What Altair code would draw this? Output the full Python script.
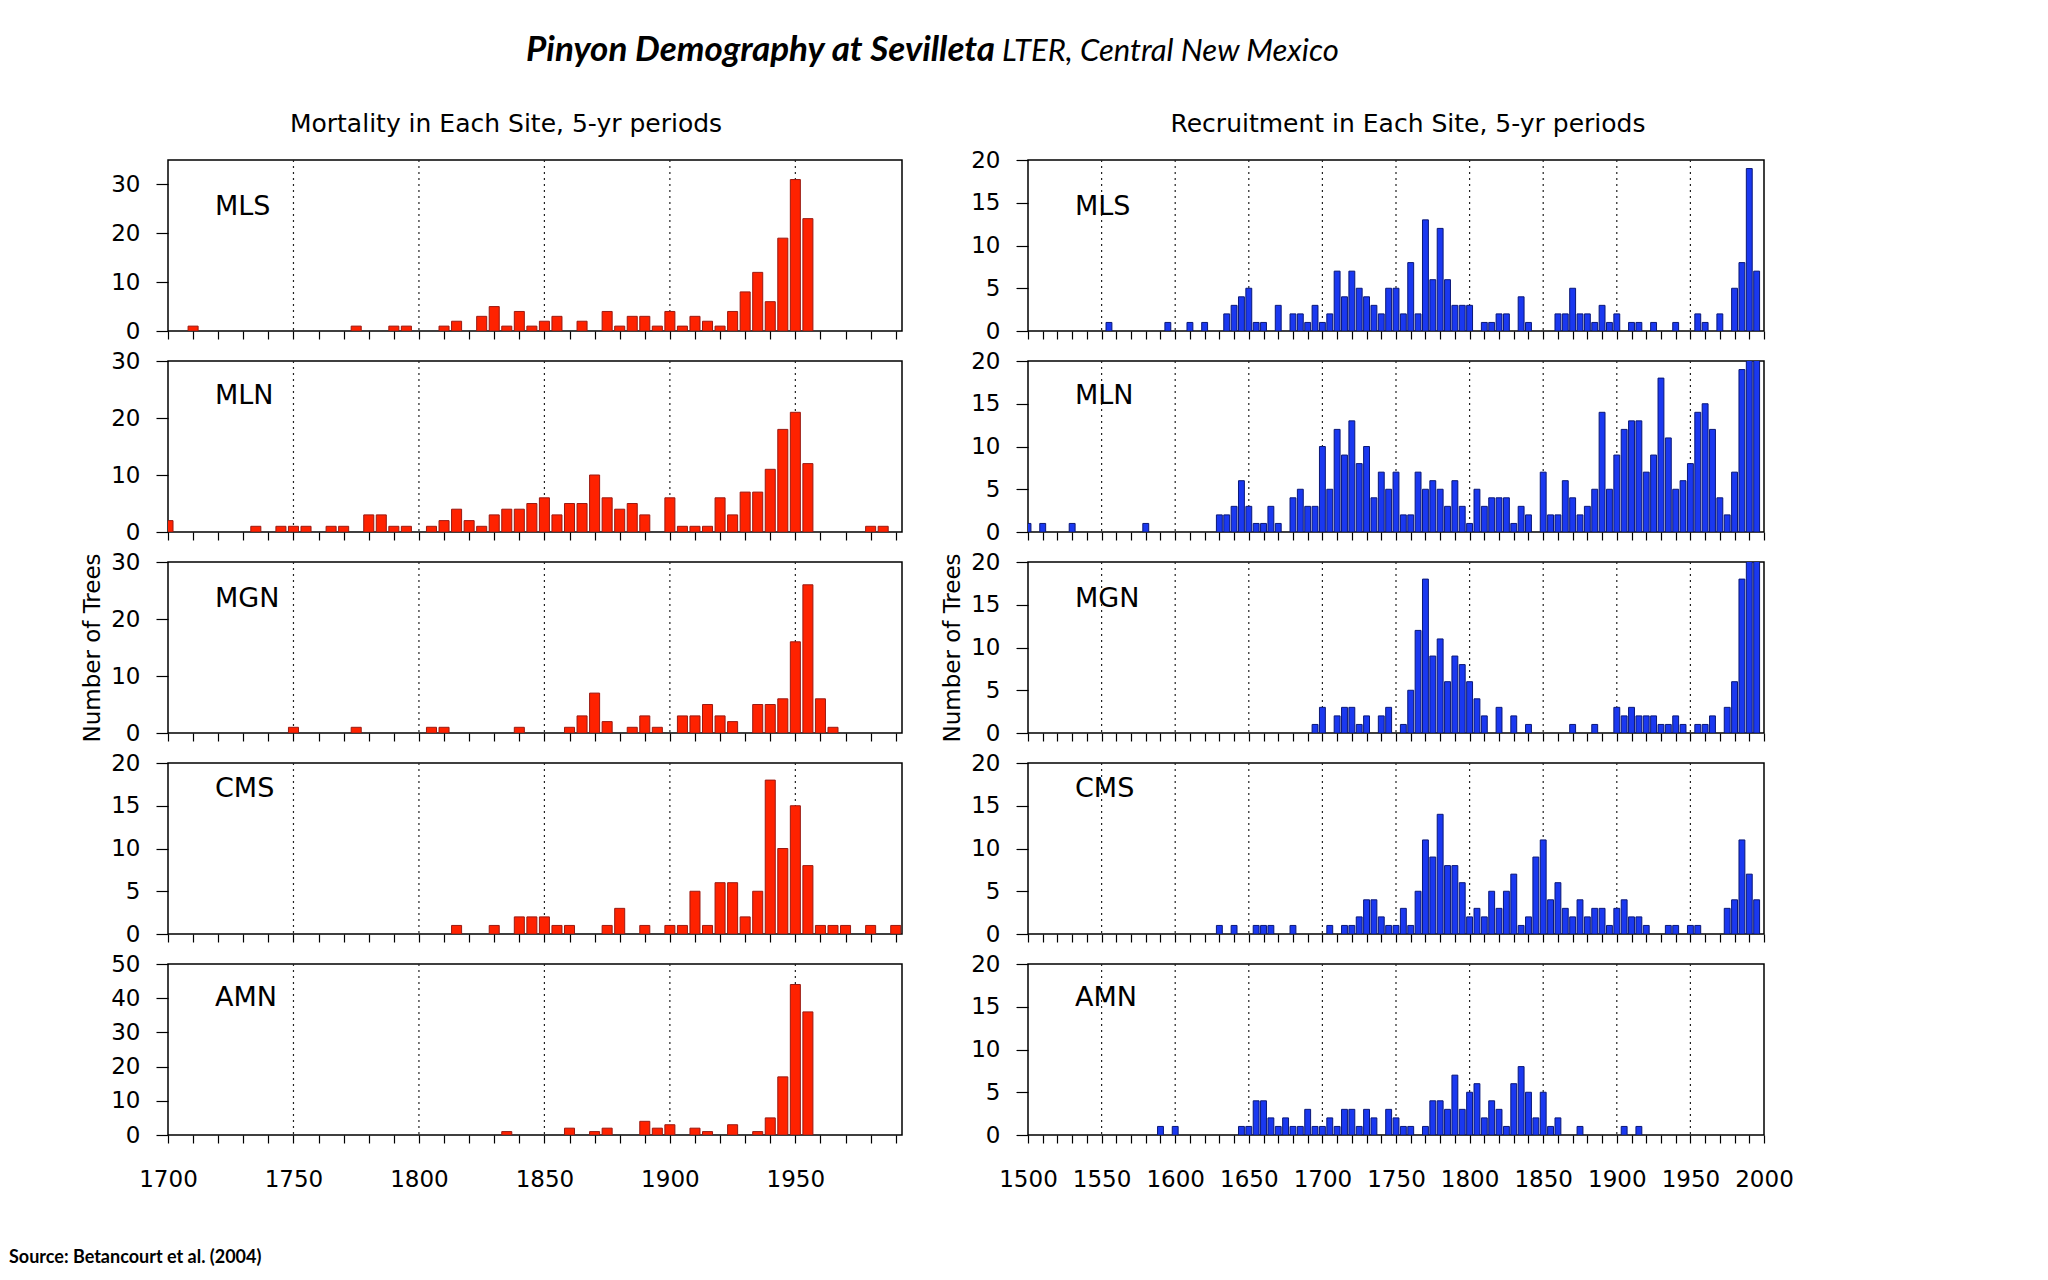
import altair as alt
import pandas as pd

# ---------------- data: mortality (left column) ----------------
MORT_MLS_YEARS = [1710, 1775, 1790, 1795, 1810, 1815, 1825, 1830, 1835, 1840, 1845, 1850, 1855, 1865, 1875, 1880,
                  1885, 1890, 1895, 1900, 1905, 1910, 1915, 1920, 1925, 1930, 1935, 1940, 1945, 1950, 1955]
MORT_MLS_N = [1, 1, 1, 1, 1, 2, 3, 5, 1, 4, 1, 2, 3, 2, 4, 1, 3, 3, 1, 4, 1, 3, 2, 1, 4, 8, 12, 6, 19, 31, 23]

MORT_MLN_YEARS = [1700, 1735, 1745, 1750, 1755, 1765, 1770, 1780, 1785, 1790, 1795, 1805, 1810, 1815, 1820, 1825,
                  1830, 1835, 1840, 1845, 1850, 1855, 1860, 1865, 1870, 1875, 1880, 1885, 1890, 1900, 1905, 1910,
                  1915, 1920, 1925, 1930, 1935, 1940, 1945, 1950, 1955, 1980, 1985]
MORT_MLN_N = [2, 1, 1, 1, 1, 1, 1, 3, 3, 1, 1, 1, 2, 4, 2, 1, 3, 4, 4, 5, 6, 3, 5, 5, 10, 6, 4, 5, 3, 6, 1, 1,
              1, 6, 3, 7, 7, 11, 18, 21, 12, 1, 1]

MORT_MGN_YEARS = [1750, 1775, 1805, 1810, 1840, 1860, 1865, 1870, 1875, 1885, 1890, 1895, 1905, 1910, 1915, 1920,
                  1925, 1935, 1940, 1945, 1950, 1955, 1960, 1965]
MORT_MGN_N = [1, 1, 1, 1, 1, 1, 3, 7, 2, 1, 3, 1, 3, 3, 5, 3, 2, 5, 5, 6, 16, 26, 6, 1]

MORT_CMS_YEARS = [1815, 1830, 1840, 1845, 1850, 1855, 1860, 1875, 1880, 1890, 1900, 1905, 1910, 1915, 1920, 1925,
                  1930, 1935, 1940, 1945, 1950, 1955, 1960, 1965, 1970, 1980, 1990]
MORT_CMS_N = [1, 1, 2, 2, 2, 1, 1, 1, 3, 1, 1, 1, 5, 1, 6, 6, 2, 5, 18, 10, 15, 8, 1, 1, 1, 1, 1]

MORT_AMN_YEARS = [1835, 1860, 1870, 1875, 1890, 1895, 1900, 1910, 1915, 1925, 1935, 1940, 1945, 1950, 1955]
MORT_AMN_N = [1, 2, 1, 2, 4, 2, 3, 2, 1, 3, 1, 5, 17, 44, 36]

# ---------------- data: recruitment (right column) ----------------
REC_MLS_YEARS = [1555, 1595, 1610, 1620, 1635, 1640, 1645, 1650, 1655, 1660, 1670, 1680, 1685, 1690, 1695, 1700,
                 1705, 1710, 1715, 1720, 1725, 1730, 1735, 1740, 1745, 1750, 1755, 1760, 1765, 1770, 1775, 1780,
                 1785, 1790, 1795, 1800, 1810, 1815, 1820, 1825, 1835, 1840, 1860, 1865, 1870, 1875, 1880, 1885,
                 1890, 1895, 1900, 1910, 1915, 1925, 1940, 1955, 1960, 1970, 1980, 1985, 1990, 1995]
REC_MLS_N = [1, 1, 1, 1, 2, 3, 4, 5, 1, 1, 3, 2, 2, 1, 3, 1,
             2, 7, 4, 7, 5, 4, 3, 2, 5, 5, 2, 8, 2, 13, 6, 12,
             6, 3, 3, 3, 1, 1, 2, 2, 4, 1, 2, 2, 5, 2, 2, 1,
             3, 1, 2, 1, 1, 1, 1, 2, 1, 2, 5, 8, 19, 7]

REC_MLN_YEARS = [1500, 1510, 1530, 1580, 1630, 1635, 1640, 1645, 1650, 1655, 1660, 1665, 1670, 1680, 1685, 1690,
                 1695, 1700, 1705, 1710, 1715, 1720, 1725, 1730, 1735, 1740, 1745, 1750, 1755, 1760, 1765, 1770,
                 1775, 1780, 1785, 1790, 1795, 1800, 1805, 1810, 1815, 1820, 1825, 1830, 1835, 1840, 1850, 1855,
                 1860, 1865, 1870, 1875, 1880, 1885, 1890, 1895, 1900, 1905, 1910, 1915, 1920, 1925, 1930, 1935,
                 1940, 1945, 1950, 1955, 1960, 1965, 1970, 1975, 1980, 1985, 1990, 1995]
REC_MLN_N = [1, 1, 1, 1, 2, 2, 3, 6, 3, 1, 1, 3, 1, 4, 5, 3,
             3, 10, 5, 12, 9, 13, 8, 10, 4, 7, 5, 7, 2, 2, 7, 5,
             6, 5, 3, 6, 3, 1, 5, 3, 4, 4, 4, 1, 3, 2, 7, 2,
             2, 6, 4, 2, 3, 5, 14, 5, 9, 12, 13, 13, 7, 9, 18, 11,
             5, 6, 8, 14, 15, 12, 4, 2, 7, 19, 24, 24]

REC_MGN_YEARS = [1695, 1700, 1710, 1715, 1720, 1725, 1730, 1740, 1745, 1755, 1760, 1765, 1770, 1775, 1780, 1785,
                 1790, 1795, 1800, 1805, 1810, 1820, 1830, 1840, 1870, 1885, 1900, 1905, 1910, 1915, 1920, 1925,
                 1930, 1935, 1940, 1945, 1955, 1960, 1965, 1975, 1980, 1985, 1990, 1995]
REC_MGN_N = [1, 3, 2, 3, 3, 1, 2, 2, 3, 1, 5, 12, 18, 9, 11, 6,
             9, 8, 6, 4, 2, 3, 2, 1, 1, 1, 3, 2, 3, 2, 2, 2,
             1, 1, 2, 1, 1, 1, 2, 3, 6, 18, 24, 24]

REC_CMS_YEARS = [1630, 1640, 1655, 1660, 1665, 1680, 1705, 1715, 1720, 1725, 1730, 1735, 1740, 1745, 1750, 1755,
                 1760, 1765, 1770, 1775, 1780, 1785, 1790, 1795, 1800, 1805, 1810, 1815, 1820, 1825, 1830, 1835,
                 1840, 1845, 1850, 1855, 1860, 1865, 1870, 1875, 1880, 1885, 1890, 1895, 1900, 1905, 1910, 1915,
                 1920, 1935, 1940, 1950, 1955, 1975, 1980, 1985, 1990, 1995]
REC_CMS_N = [1, 1, 1, 1, 1, 1, 1, 1, 1, 2, 4, 4, 2, 1, 1, 3,
             1, 5, 11, 9, 14, 8, 8, 6, 2, 3, 2, 5, 3, 5, 7, 1,
             2, 9, 11, 4, 6, 3, 2, 4, 2, 3, 3, 1, 3, 4, 2, 2,
             1, 1, 1, 1, 1, 3, 4, 11, 7, 4]

REC_AMN_YEARS = [1590, 1600, 1645, 1650, 1655, 1660, 1665, 1670, 1675, 1680, 1685, 1690, 1695, 1700, 1705, 1710,
                 1715, 1720, 1725, 1730, 1735, 1745, 1750, 1755, 1760, 1770, 1775, 1780, 1785, 1790, 1795, 1800,
                 1805, 1810, 1815, 1820, 1825, 1830, 1835, 1840, 1845, 1850, 1855, 1860, 1875, 1905, 1915]
REC_AMN_N = [1, 1, 1, 1, 4, 4, 2, 1, 2, 1, 1, 3, 1, 1, 2, 1,
             3, 3, 1, 3, 2, 3, 2, 1, 1, 1, 4, 4, 3, 7, 3, 5,
             6, 2, 4, 3, 1, 6, 8, 5, 2, 5, 1, 2, 1, 1, 1]

SITES = ["MLS", "MLN", "MGN", "CMS", "AMN"]
MORT = {
    "MLS": (MORT_MLS_YEARS, MORT_MLS_N), "MLN": (MORT_MLN_YEARS, MORT_MLN_N),
    "MGN": (MORT_MGN_YEARS, MORT_MGN_N), "CMS": (MORT_CMS_YEARS, MORT_CMS_N),
    "AMN": (MORT_AMN_YEARS, MORT_AMN_N),
}
REC = {
    "MLS": (REC_MLS_YEARS, REC_MLS_N), "MLN": (REC_MLN_YEARS, REC_MLN_N),
    "MGN": (REC_MGN_YEARS, REC_MGN_N), "CMS": (REC_CMS_YEARS, REC_CMS_N),
    "AMN": (REC_AMN_YEARS, REC_AMN_N),
}

MORT_YDOMAIN = {"MLS": [0, 35], "MLN": [0, 30], "MGN": [0, 30], "CMS": [0, 20], "AMN": [0, 50]}
MORT_YTICKS = {"MLS": [0, 10, 20, 30], "MLN": [0, 10, 20, 30], "MGN": [0, 10, 20, 30],
               "CMS": [0, 5, 10, 15, 20], "AMN": [0, 10, 20, 30, 40, 50]}
REC_YDOMAIN = [0, 20]
REC_YTICKS = [0, 5, 10, 15, 20]

LEFT_XDOMAIN = [1700, 1992.5]
RIGHT_XDOMAIN = [1500, 2000]
LEFT_XTICKS = list(range(1700, 1991, 10))
RIGHT_XTICKS = list(range(1500, 2001, 10))
LEFT_GRID = [1750, 1800, 1850, 1900, 1950]
RIGHT_GRID = [1550, 1600, 1650, 1700, 1750, 1800, 1850, 1900, 1950]

TITLE_MAIN = "Pinyon Demography at Sevilleta"
TITLE_SUB = "LTER, Central New Mexico"
COL_TITLE_LEFT = "Mortality in Each Site, 5-yr periods"
COL_TITLE_RIGHT = "Recruitment in Each Site, 5-yr periods"
Y_TITLE = "Number of Trees"
SOURCE = "Source: Betancourt et al. (2004)"

LABEL_Y = {"MLS": 47, "MLN": 35, "MGN": 37, "CMS": 26, "AMN": 34}

FONT = "DejaVu Sans"
PANEL_H = 171


def text_layer(txt, x, y, size, align="left", angle=0, font=FONT, weight="normal", style="normal"):
    return alt.Chart(pd.DataFrame({"t": [txt]})).mark_text(
        align=align, baseline="middle", font=font, fontSize=size, fontWeight=weight,
        fontStyle=style, color="black", angle=angle
    ).encode(x=alt.value(x), y=alt.value(y), text="t:N")


def panel(site, side, bottom):
    if side == "left":
        years, counts = MORT[site]
        xdom, xticks, grid = LEFT_XDOMAIN, LEFT_XTICKS, LEFT_GRID
        ydom, yticks = MORT_YDOMAIN[site], MORT_YTICKS[site]
        fill, stroke, width = "#ff2200", "#9a1a12", 734
    else:
        years, counts = REC[site]
        xdom, xticks, grid = RIGHT_XDOMAIN, RIGHT_XTICKS, RIGHT_GRID
        ydom, yticks = REC_YDOMAIN, REC_YTICKS
        fill, stroke, width = "#1a38f0", "#0a1878", 736

    df = pd.DataFrame({"year": years, "n": counts})
    xscale = alt.Scale(domain=xdom, nice=False, zero=False)
    yscale = alt.Scale(domain=ydom, nice=False, zero=True)

    xaxis = alt.Axis(
        values=xticks, title=None, tickSize=8, grid=False, domain=False,
        labels=bottom, labelExpr="datum.value % 50 === 0 ? datum.label : ''",
        labelFlush=False, labelOverlap=False, labelPadding=25, format="d",
    )
    yaxis = alt.Axis(
        values=yticks, title=Y_TITLE if site == "MGN" else None, tickSize=12,
        labelPadding=16, titlePadding=6, grid=False, domain=False,
    )

    rules = alt.Chart(pd.DataFrame({"g": grid})).mark_rule(
        color="#222222", strokeWidth=1.2, strokeDash=[2, 4]
    ).encode(x=alt.X("g:Q", scale=xscale, axis=xaxis))

    bars = alt.Chart(df).transform_calculate(
        x0="datum.year - 2", x1="datum.year + 2", base="0"
    ).mark_bar(fill=fill, stroke=stroke, strokeWidth=1, clip=True).encode(
        x=alt.X("x0:Q", scale=xscale, axis=xaxis),
        x2="x1:Q",
        y=alt.Y("n:Q", scale=yscale, axis=yaxis),
        y2="base:Q",
    )

    layers = [rules, bars, text_layer(site, 47, LABEL_Y[site], 27)]
    if site == "MLS":
        if side == "left":
            layers.append(text_layer(COL_TITLE_LEFT, 338, -36, 25, align="center"))
        else:
            layers.append(text_layer(COL_TITLE_RIGHT, 380, -36, 25, align="center"))
    if site == "AMN" and side == "left":
        layers.append(text_layer(SOURCE, -159, 294, 18, font="Lato", weight="bold"))

    return alt.layer(*layers).properties(width=width, height=PANEL_H)


left_col = alt.vconcat(*[panel(s, "left", s == "AMN") for s in SITES], spacing=30, bounds="flush")
right_col = alt.vconcat(*[panel(s, "right", s == "AMN") for s in SITES], spacing=30, bounds="flush")
body = alt.hconcat(left_col, right_col, spacing=37)

header = alt.layer(
    text_layer(TITLE_MAIN, 827, 37, 35, align="right", font="Lato", weight="bold", style="italic"),
    text_layer(TITLE_SUB, 834, 39, 31, align="left", font="Lato", weight="normal", style="italic"),
).properties(width=1590, height=60, view=alt.ViewBackground(stroke=None))

chart = alt.vconcat(header, body, spacing=38).properties(
    padding={"left": 0, "top": 5, "right": 5, "bottom": 0},
    background="white",
).configure_view(
    stroke="black", strokeWidth=1.5
).configure_axis(
    labelFont=FONT, labelFontSize=23, labelColor="black",
    titleFont=FONT, titleFontSize=23, titleFontWeight="normal", titleColor="black",
    tickColor="black", tickWidth=1.2,
).configure_concat(spacing=30)

chart.save("out.html", embed_options={"renderer": "svg", "actions": False})
